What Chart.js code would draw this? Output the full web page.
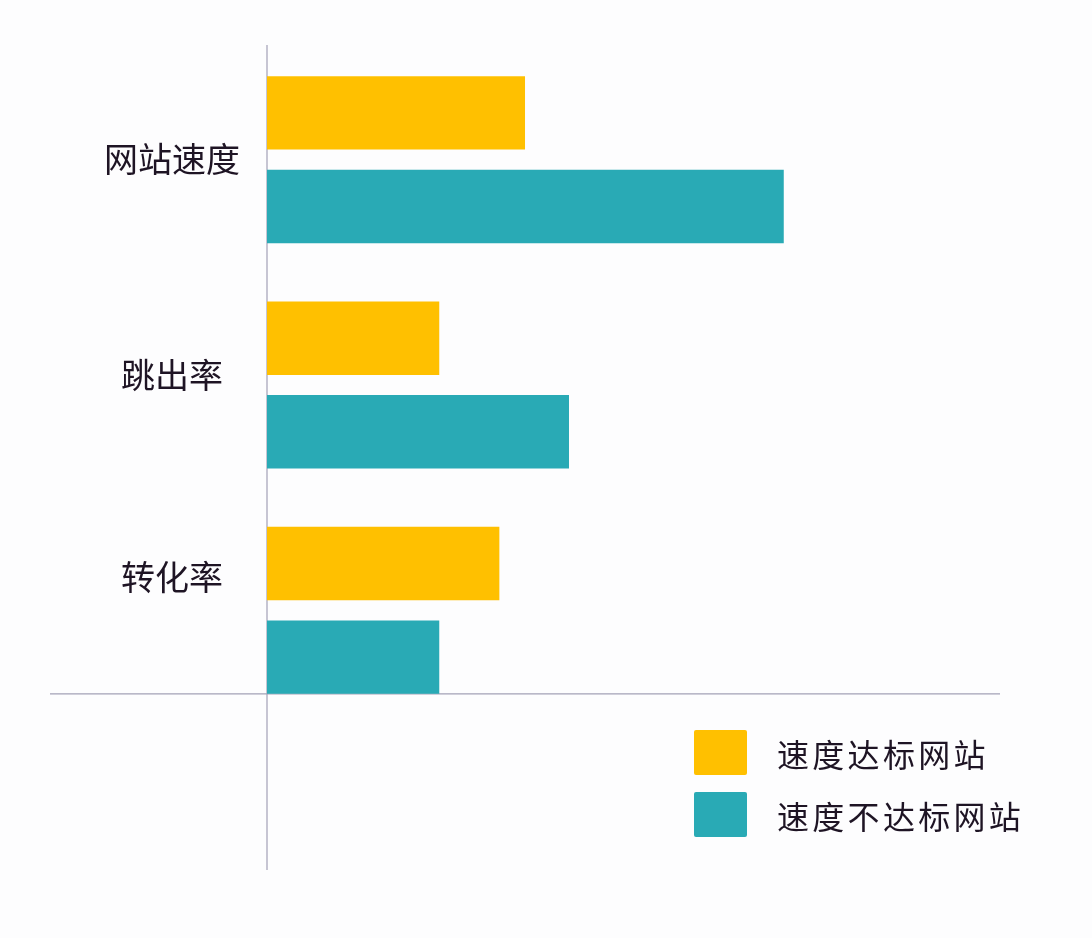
<!DOCTYPE html>
<html lang="zh-CN">
<head>
<meta charset="utf-8">
<script src="https://cdn.jsdelivr.net/npm/chart.js@4"></script>
<style>
    html, body { margin: 0; padding: 0; background: #fdfdfe; }
    #wrap { position: relative; width: 1092px; height: 938px; }
    #leyenda { position: absolute; left: 694px; top: 730px; font-family: "Noto Sans CJK SC", sans-serif; }
    .item { display: flex; align-items: center; height: 45px; margin-bottom: 17px; }
    .caja { width: 53px; height: 45px; border-radius: 2px; margin-right: 30px; }
    .txt { font-size: 32px; letter-spacing: 3.3px; color: #1e1424; }
</style>
</head>
<body>
<div id="wrap">
    <canvas id="grafico" width="1092" height="938"></canvas>
    <div id="leyenda"></div>
</div>
<script>
const categorias = ["网站速度", "跳出率", "转化率"];
const series = ["速度达标网站", "速度不达标网站"];
const dabiao = [35.2, 23.5, 31.7];
const budabiao = [70.5, 41.2, 23.5];
const colores = ["#ffc000", "#29aab5"];

const fuente = "'Noto Sans CJK SC', 'Noto Sans', sans-serif";
// en el original las etiquetas no van centradas en su grupo: se suben con una linea vacia
const altoLinea = [2, 20, 66];

// cruz de ejes: la linea vertical baja por debajo del eje y la horizontal sale a la izquierda
const ejes = {
    id: "ejes",
    beforeDatasetsDraw(chart) {
        const { ctx, chartArea, scales } = chart;
        const x0 = scales.x.getPixelForValue(0);
        const ultima = chart.getDatasetMeta(1).data[categorias.length - 1];
        const yBase = ultima.y + ultima.height / 2;
        ctx.save();
        ctx.strokeStyle = "#a3a1b6";
        ctx.lineWidth = 1.2;
        ctx.beginPath();
        ctx.moveTo(x0, chartArea.top - 2);
        ctx.lineTo(x0, chart.height - 68);
        ctx.moveTo(50, yBase);
        ctx.lineTo(chartArea.right, yBase);
        ctx.stroke();
        ctx.restore();
    },
};

new Chart(document.getElementById("grafico"), {
    type: "bar",
    data: {
        labels: categorias.map((c) => [c, ""]),
        datasets: [
            { label: series[0], data: dabiao, backgroundColor: colores[0] },
            { label: series[1], data: budabiao, backgroundColor: colores[1] },
        ],
    },
    options: {
        indexAxis: "y",
        responsive: false,
        animation: false,
        categoryPercentage: 0.83,
        barPercentage: 0.785,
        layout: { padding: { left: 50, right: 92, top: 47, bottom: 215 } },
        scales: {
            x: { display: false, min: 0, max: 100 },
            y: {
                grid: { display: false },
                border: { display: false },
                ticks: {
                    padding: 19,
                    crossAlign: "center",
                    color: "#1e1424",
                    font: (c) => ({ family: fuente, size: 34, lineHeight: altoLinea[c.index] + "px" }),
                },
                afterFit(scale) {
                    scale.width = 217;
                    scale.paddingTop = 0;
                    scale.paddingBottom = 0;
                },
            },
        },
        plugins: {
            legend: { display: false },
            tooltip: { enabled: false },
        },
    },
    plugins: [ejes],
});

const l = document.querySelector("#leyenda");
series.forEach((s, i) => {
    l.innerHTML += `<div class="item"><div class="caja" style="background:${colores[i]}"></div><span class="txt">${s}</span></div>`;
});
</script>
</body>
</html>
